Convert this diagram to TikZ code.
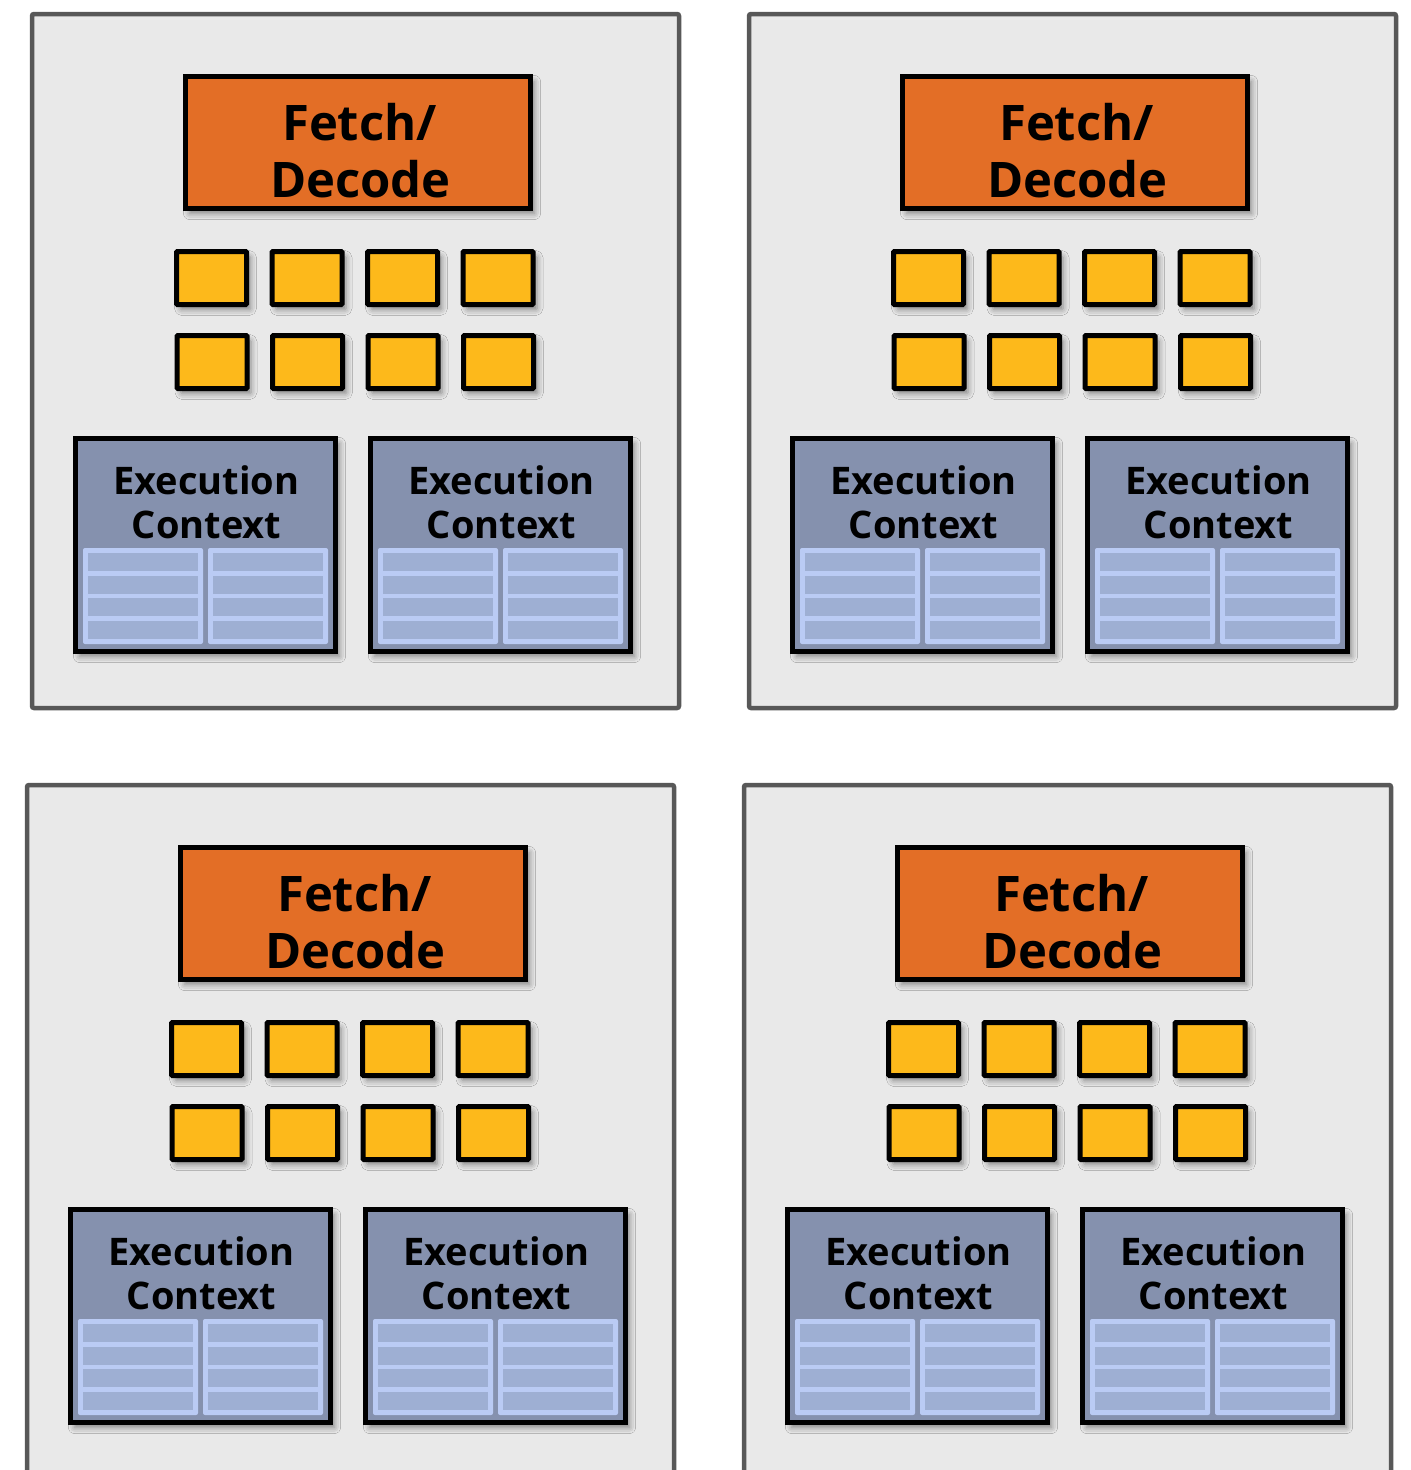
\documentclass[tikz,border=0pt]{standalone}
\usepackage{fontspec}
\setmainfont{Open Sans}
\usetikzlibrary{shadows.blur}
\definecolor{corefill}{HTML}{E9E9E9}
\definecolor{coreline}{HTML}{585858}
\definecolor{fdorange}{HTML}{E36E26}
\definecolor{aluyellow}{HTML}{FDB91B}
\definecolor{ecblue}{HTML}{8591AE}
\definecolor{tablight}{HTML}{BACBF4}
\definecolor{tabcell}{HTML}{9EAFD3}
\tikzset{
  core/.style={draw=coreline, fill=corefill, line width=4.5pt, rounded corners=2pt},
  softshadow/.style={blur shadow={shadow xshift=4pt, shadow yshift=-5pt, shadow blur radius=6pt, shadow opacity=45}},
  fdbox/.style={draw=black, fill=fdorange, line width=5pt, minimum width=345pt, minimum height=132pt, inner sep=0pt, softshadow},
  fdtext/.style={anchor=base, inner sep=0pt, font=\fontsize{49}{56}\selectfont\bfseries},
  alubox/.style={draw=black, fill=aluyellow, line width=5pt, minimum width=70pt, minimum height=53pt, inner sep=0pt, rounded corners=1pt, softshadow},
  ecbox/.style={draw=black, fill=ecblue, line width=5pt, minimum width=260pt, minimum height=213pt, inner sep=0pt, softshadow},
  ectext/.style={anchor=base, inner sep=0pt, font=\fontsize{38}{46}\selectfont\bfseries},
  tabouter/.style={fill=tablight, rounded corners=2pt},
  tabcellst/.style={fill=tabcell},
}
\begin{document}
\begin{tikzpicture}[x=1pt,y=-1pt]
\useasboundingbox (0,0) rectangle (1411,1470);
\clip (0,0) rectangle (1411,1470);
\foreach \cx/\cy/\k/\by in {0/0/a/708, 717/0/b/708, -5/771/c/760, 712/771/d/760}{
  \begin{scope}[shift={(\cx,\cy)}]
    \draw[core] (32,14) rectangle (679,\by);
    % fetch / decode
    \node[fdbox] (fd-\k) at (358,142.5) {};
    \node[fdtext] (fdt-\k-1) at (359.5,140) {Fetch/};
    \node[fdtext] (fdt-\k-2) at (360.5,197) {Decode};
    % ALUs
    \foreach \c/\xx in {1/211.5, 2/307, 3/402.5, 4/498}{
      \node[alubox] (alu-\k-1-\c) at (\xx,278) {};
      \node[alubox] (alu-\k-2-\c) at (\xx+0.5,362) {};
    }
    % execution contexts
    \foreach \e/\ex in {1/73, 2/368}{
      \node[ecbox] (ec-\k-\e) at (\ex+132.5,545) {};
      \foreach \h in {0,1}{
        \fill[tabouter] (\ex+10+125*\h,436+112) rectangle (\ex+130+125*\h,436+208);
        \foreach \r in {0,1,2,3}{
          \fill[tabcellst] (\ex+15+125*\h,436+117+22.67*\r) rectangle (\ex+125+125*\h,436+135+22.67*\r);
        }
      }
      \node[ectext] (ect-\k-\e-1) at (\ex+133.5,494) {Execution};
      \node[ectext] (ect-\k-\e-2) at (\ex+133.5,538) {Context};
    }
  \end{scope}
}
\end{tikzpicture}
\end{document}
